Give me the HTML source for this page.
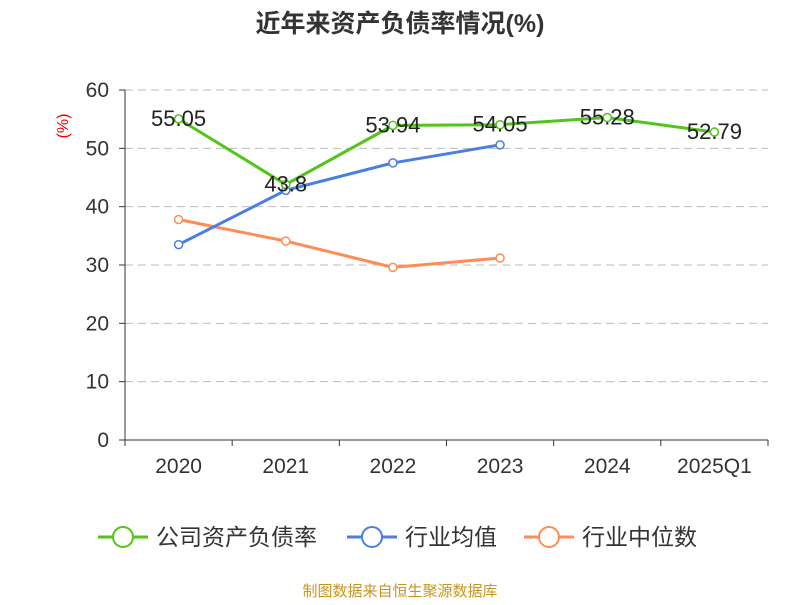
<!DOCTYPE html>
<html><head><meta charset="utf-8"><style>
body{margin:0;background:#fff;width:800px;height:600px;overflow:hidden;font-family:"Liberation Sans","Noto Sans CJK SC",sans-serif}
</style></head><body>
<svg width="800" height="600" xmlns="http://www.w3.org/2000/svg" font-family="Liberation Sans, Noto Sans CJK SC, sans-serif">
<text x="400" y="32" text-anchor="middle" font-size="25" font-weight="bold" fill="#333">近年来资产负债率情况(%)</text>
<text x="68" y="126" font-size="16" fill="#e00" transform="rotate(-90 68 126)" text-anchor="middle">(%)</text>
<g id="grid"></g><g id="axes"></g><g id="series"></g>
<g>
<g><line x1="98" y1="537" x2="148" y2="537" stroke="#52c41a" stroke-width="3"/><circle cx="123" cy="537" r="10" fill="#fff" stroke="#52c41a" stroke-width="2"/><text x="156" y="545" font-size="23" fill="#333">公司资产负债率</text></g>
<g><line x1="347" y1="537" x2="397" y2="537" stroke="#4a7fe0" stroke-width="3"/><circle cx="372" cy="537" r="10" fill="#fff" stroke="#4a7fe0" stroke-width="2"/><text x="405" y="545" font-size="23" fill="#333">行业均值</text></g>
<g><line x1="524" y1="537" x2="574" y2="537" stroke="#ff8c55" stroke-width="3"/><circle cx="549" cy="537" r="10" fill="#fff" stroke="#ff8c55" stroke-width="2"/><text x="582" y="545" font-size="23" fill="#333">行业中位数</text></g>
</g>
<text x="400" y="596" text-anchor="middle" font-size="15" fill="#c8961e">制图数据来自恒生聚源数据库</text>
</svg>
<script>
const categories=["2020","2021","2022","2023","2024","2025Q1"];
const companyValues=[55.05,43.8,53.94,54.05,55.28,52.79];
const industryAvg=[33.5,42.8,47.5,50.6,null,null];
const industryMedian=[37.8,34.1,29.6,31.2,null,null];
const yTicks=[0,10,20,30,40,50,60];
const NS="http://www.w3.org/2000/svg";
const x0=125,x1=768,yTop=90,yBot=440,band=(x1-x0)/categories.length;
const xs=i=>x0+band*(i+0.5);
const ys=v=>yBot-(v/60)*(yBot-yTop);
function mk(t,a,p){const e=document.createElementNS(NS,t);for(const k in a)e.setAttribute(k,a[k]);p.appendChild(e);return e;}
const grid=document.getElementById('grid'),axes=document.getElementById('axes'),ser=document.getElementById('series');
yTicks.forEach(v=>{
 if(v>0){const g=mk('line',{x1:x0,x2:x1,y1:ys(v),y2:ys(v),stroke:'#bbb','stroke-dasharray':'8,5'},grid);
 
 }
 const tk=mk('line',{x1:x0-6,x2:x0,y1:ys(v),y2:ys(v),stroke:'#333'},axes);
 
 
 const t=mk('text',{x:x0-16,y:ys(v)+7,'text-anchor':'end','font-size':21,fill:'#333'},axes);t.textContent=v;
 
 
});
const ya=mk('line',{x1:x0,x2:x0,y1:yTop,y2:yBot,stroke:'#333'},axes);


const xa=mk('line',{x1:x0,x2:x1,y1:yBot,y2:yBot,stroke:'#333'},axes);


for(let i=0;i<=categories.length;i++){const l=mk('line',{x1:x0+band*i,x2:x0+band*i,y1:yBot,y2:yBot+6,stroke:'#333'},axes);
 
 }
categories.forEach((c,i)=>{const t=mk('text',{x:xs(i),y:yBot+33,'text-anchor':'middle','font-size':21,fill:'#333'},axes);t.textContent=c;
 
 });
function series(vals,color,name,labels){
 const pts=[];vals.forEach((v,i)=>{if(v!=null)pts.push([xs(i),ys(v),v]);});
 const p=mk('polyline',{points:pts.map(q=>q[0]+','+q[1]).join(' '),fill:'none',stroke:color,'stroke-width':3},ser);
 
 
 pts.forEach(q=>{const c=mk('circle',{cx:q[0],cy:q[1],r:4,fill:'#fff',stroke:color,'stroke-width':1.5},ser);
  
  
  if(labels){const t=mk('text',{x:q[0],y:q[1]+7,'text-anchor':'middle','font-size':22,fill:'#222'},ser);t.textContent=q[2];
  
  }});
}
series(industryMedian,'#ff8c55','industry-median',false);
series(industryAvg,'#4a7fe0','industry-avg',false);
series(companyValues,'#52c41a','company',true);
</script>
</body></html>
